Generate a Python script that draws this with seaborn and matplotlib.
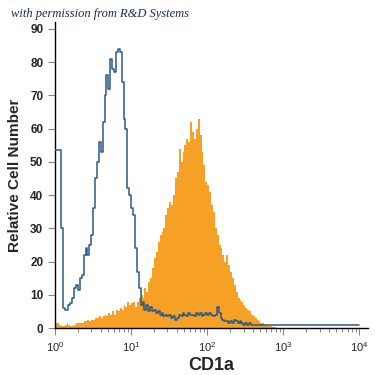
import numpy as np
import pandas as pd
import matplotlib
matplotlib.use("Agg")
import matplotlib.pyplot as plt
import seaborn as sns
from matplotlib.ticker import LogLocator, NullFormatter

# 流式直方图: 同型对照 (空心蓝线) vs CD1a 染色 (橙色填充)
sns.set_style("ticks")
plt.rcParams['font.family'] = ['Liberation Sans', 'DejaVu Sans']

# 通道宽度 (log10 单位), 通道从 10^0 开始
log_step = 0.025

# 同型对照计数, 每个通道一个值 (10^0 .. 10^4)
isotype_counts = [
    53.5, 53.5, 53.5, 30, 6, 5.5, 5.5, 7, 7.5, 9,
    12, 13, 11.5, 15, 16, 22, 24, 22, 25, 28,
    36, 45, 50, 56, 53, 62, 70, 76, 72, 81,
    78, 77, 83, 84, 83, 74, 63, 60, 42, 40,
    36, 34, 24, 17, 12, 7, 8, 5.5, 7, 5,
    6.5, 5, 5.5, 4.5, 5, 4, 4.5, 3.5, 4, 3.5,
    4, 3, 3.5, 2.5, 3, 4, 3.5, 4.5, 4, 3.5,
    4.5, 4, 4, 3.5, 4.5, 4, 4.5, 3.5, 4, 4.5,
    4, 4.5, 4, 3.5, 4, 6.5, 4.5, 3, 2.5, 2,
    2, 1.5, 2, 1.5, 2.5, 2, 1.5, 2, 1.5, 1,
    1.5, 1, 1.5, 1, 1, 0.8, 1, 1, 1, 1,
    1, 1, 1, 1, 1, 1, 1, 1, 1, 1,
    1, 1, 1, 1, 1, 1, 1, 1, 1, 1,
    1, 1, 1, 1, 1, 1, 1, 1, 1, 1,
    1, 1, 1, 1, 1, 1, 1, 1, 1, 1,
    1, 1, 1, 1, 1, 1, 1, 1, 1, 1,
]

# CD1a 染色计数 (10^0 .. 10^2.9)
cd1a_counts = [
    1.5, 1.5, 1, 0.5, 0.5, 0.8, 1.5, 1, 0.5, 0.5,
    1, 1.5, 1.5, 1.5, 1.5, 2, 2, 2.5, 2, 2.5,
    2.5, 3, 3, 3.5, 3, 3.5, 4, 3.5, 4.5, 4,
    5, 4, 5.5, 5, 6, 5.5, 7, 6.5, 8, 7,
    7.5, 8, 6.5, 8, 9, 10, 9, 12, 11, 14,
    15, 18, 21, 23, 26, 28, 29, 30, 34, 36,
    38, 37, 40, 45, 47, 54, 50, 53, 55, 57,
    56, 62, 59, 57, 60, 63, 58, 53, 49, 44,
    43, 41, 37, 35, 30, 28, 25, 24, 22, 20,
    22, 19, 17, 15, 13, 11, 9, 8.5, 8, 7,
    6, 5.5, 5, 4, 3.5, 3, 2.5, 2, 1.5, 1.5,
    1, 0.8, 0.6, 0.5, 0.4, 0.3,
]

y_ticks = [0, 10, 20, 30, 40, 50, 60, 70, 80, 90]


def channel_frame(counts):
    centres = 10 ** (np.arange(len(counts)) * log_step + log_step / 2)
    return pd.DataFrame({'fluor': centres, 'count': counts})


iso = channel_frame(isotype_counts)
cd1a = channel_frame(cd1a_counts)

fig = plt.figure(figsize=(3.75, 3.75), dpi=100)
ax = fig.add_axes([0.147, 0.125, 0.835, 0.816])

sns.histplot(data=cd1a, x='fluor', weights='count', bins=len(cd1a_counts),
             binrange=(0, len(cd1a_counts) * log_step), log_scale=True,
             element='step', fill=True, color='#f6a125', alpha=1,
             linewidth=0, ax=ax)
sns.histplot(data=iso, x='fluor', weights='count', bins=len(isotype_counts),
             binrange=(0, len(isotype_counts) * log_step), log_scale=True,
             element='step', fill=False, color='#2a5a85', linewidth=1.1,
             ax=ax, zorder=3)

ax.set_xlim(1, 13100)
ax.set_ylim(0, 92)
ax.set_yticks(y_ticks)
ax.xaxis.set_major_locator(LogLocator(base=10, numticks=10))
ax.xaxis.set_minor_locator(LogLocator(base=10, subs=np.arange(2, 10), numticks=50))
ax.xaxis.set_minor_formatter(NullFormatter())

ax.tick_params(axis='both', which='major', direction='out', length=5,
               width=0.8, color='#888888', labelsize=8)
ax.tick_params(axis='x', which='minor', direction='out', length=3,
               width=0.7, color='#888888')
for lab in ax.get_yticklabels():
    lab.set_fontweight('bold')
    lab.set_fontsize(8.5)

sns.despine(ax=ax)
for s in ['left', 'bottom']:
    ax.spines[s].set_color('black')
    ax.spines[s].set_linewidth(1.0)

ax.set_xlabel('CD1a', fontsize=13, fontweight='bold', labelpad=2)
ax.set_ylabel('Relative Cell Number', fontsize=11, fontweight='bold', labelpad=6)

fig.text(0.03, 0.955, 'with permission from R&D Systems', fontsize=9,
         fontstyle='italic', family=['Liberation Serif', 'DejaVu Serif'],
         color='#1a2a4a')

fig.savefig('out.png', dpi=100, facecolor='white')
